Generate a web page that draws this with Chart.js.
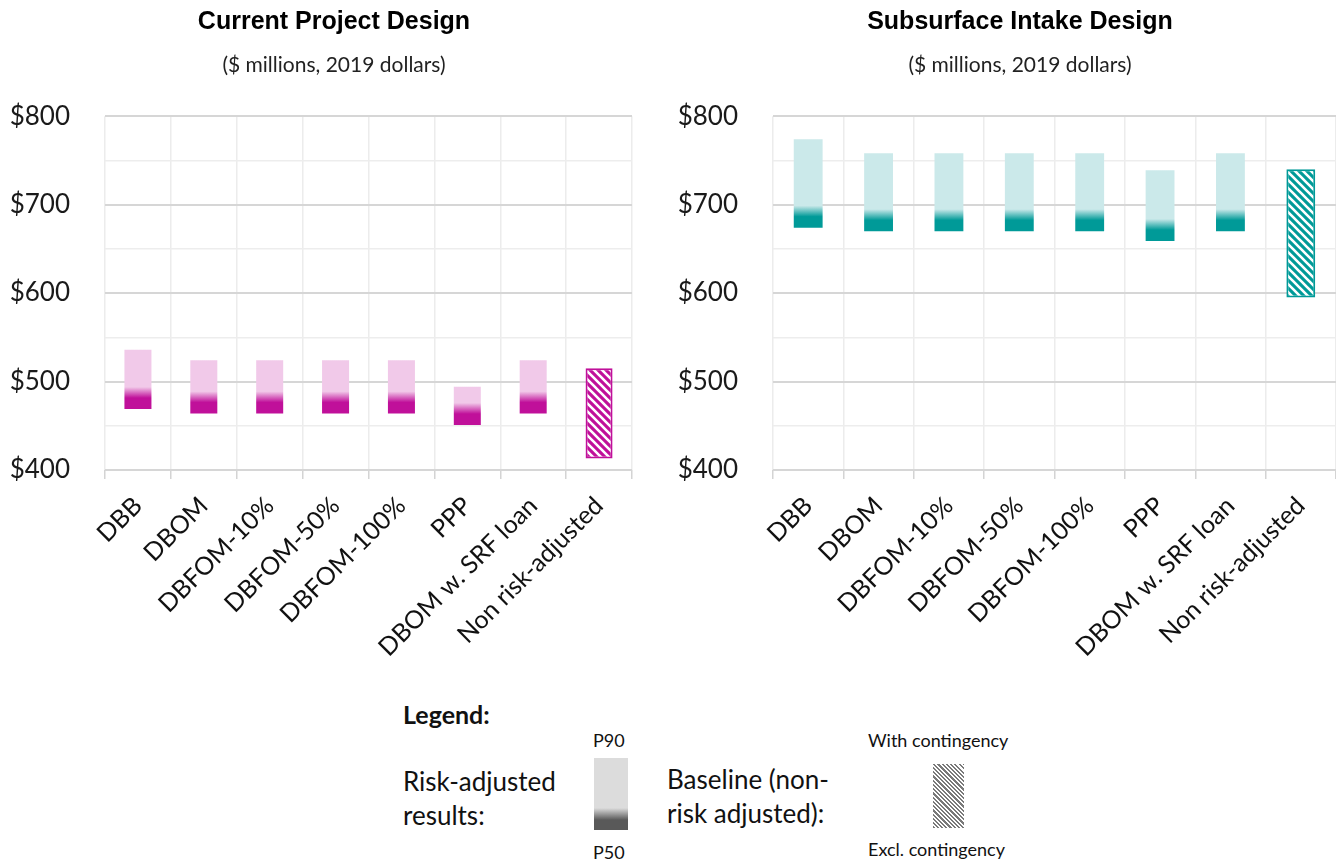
<!DOCTYPE html>
<html>
<head>
<meta charset="utf-8">
<script src="https://cdn.jsdelivr.net/npm/chart.js@4.4.1/dist/chart.umd.min.js"></script>
<style>
  body { margin: 0; background: #fff; width: 1336px; height: 861px; position: relative; overflow: hidden; font-family: Lato, sans-serif; color: #111; }
  .box { position: absolute; top: 0; height: 690px; }
  #leftBox { left: 0; width: 668px; }
  #rightBox { left: 668px; width: 704px; }
  .lg { position: absolute; white-space: nowrap; line-height: 1; }
</style>
</head>
<body>
<div class="box" id="leftBox"><canvas id="currentChart"></canvas></div>
<div class="box" id="rightBox"><canvas id="subsurfaceChart"></canvas></div>

<div class="lg" style="left:403px;top:702px;font-size:25px;font-weight:bold;">Legend:</div>
<div class="lg" style="left:403px;top:764px;font-size:26px;line-height:34px;">Risk-adjusted<br>results:</div>
<div class="lg" style="left:593px;top:731px;font-size:18px;">P90</div>
<div class="lg" style="left:594px;top:758px;width:34px;height:72px;background:linear-gradient(to top,#595959 0,#595959 10px,#dcdcdc 22px,#dcdcdc 100%);"></div>
<div class="lg" style="left:593px;top:843px;font-size:18px;">P50</div>
<div class="lg" style="left:667px;top:762px;font-size:26px;line-height:34px;">Baseline (non-<br>risk adjusted):</div>
<div class="lg" style="left:868px;top:731px;font-size:18px;">With contingency</div>
<div class="lg" style="left:933px;top:764px;width:31px;height:64px;background:repeating-linear-gradient(45deg,#7a7a7a 0,#7a7a7a 1.5px,#fff 1.5px,#fff 3px);"></div>
<div class="lg" style="left:868px;top:840px;font-size:18px;">Excl. contingency</div>

<script>
var categories = ['DBB', 'DBOM', 'DBFOM-10%', 'DBFOM-50%', 'DBFOM-100%', 'PPP', 'DBOM w. SRF loan', 'Non risk-adjusted'];
// low = P50 / excl. contingency, high = P90 / with contingency
var currentLow = [469, 464, 464, 464, 464, 451, 464, 413];
var currentHigh = [536, 524, 524, 524, 524, 494, 524, 515];
var subsurfaceLow = [674, 670, 670, 670, 670, 659, 670, 595];
var subsurfaceHigh = [774, 758, 758, 758, 758, 739, 758, 740];
var yTicks = [400, 500, 600, 700, 800];

var baselineIndex = categories.length - 1;

function hatch(color) {
  var c = document.createElement('canvas');
  c.width = 8; c.height = 8;
  var x = c.getContext('2d');
  x.fillStyle = color;
  x.fillRect(0, 0, 8, 8);
  x.strokeStyle = '#fff';
  x.lineWidth = 2.6;
  x.beginPath();
  x.moveTo(-2, -2); x.lineTo(10, 10);
  x.moveTo(-2, 6); x.lineTo(2, 10);
  x.moveTo(6, -2); x.lineTo(10, 2);
  x.stroke();
  return x.createPattern(c, 'repeat');
}

function barFill(dark, light) {
  var pattern = hatch(dark);
  return function (ctx) {
    if (ctx.dataIndex === baselineIndex) return pattern;
    var chart = ctx.chart;
    if (!chart.chartArea || !ctx.raw) return light;
    var y = chart.scales.y;
    var yb = y.getPixelForValue(ctx.raw[0]);
    var yt = y.getPixelForValue(ctx.raw[1]);
    var h = yb - yt;
    var g = chart.ctx.createLinearGradient(0, yb, 0, yt);
    g.addColorStop(0, dark);
    g.addColorStop(Math.min(11 / h, 1), dark);
    g.addColorStop(Math.min(22 / h, 1), light);
    g.addColorStop(1, light);
    return g;
  };
}

function makeChart(id, title, low, high, dark, light) {
  var data = [];
  for (var i = 0; i < categories.length; i++) {
    data.push([low[i], high[i]]);
  }
  return new Chart(document.getElementById(id).getContext('2d'), {
    type: 'bar',
    data: {
      labels: categories,
      datasets: [{
        data: data,
        backgroundColor: barFill(dark, light),
        borderColor: dark,
        borderWidth: function (c) { return c.dataIndex === baselineIndex ? 2 : 0; },
        borderSkipped: false,
        barPercentage: 0.41,
        categoryPercentage: 1
      }]
    },
    options: {
      responsive: true,
      maintainAspectRatio: false,
      animation: false,
      layout: { padding: 0 },
      plugins: {
        legend: { display: false },
        tooltip: { enabled: false },
        title: {
          display: true,
          text: title,
          color: '#000',
          font: { family: 'Liberation Sans', size: 25, weight: 'bold' },
          padding: { top: 7, bottom: 8 }
        },
        subtitle: {
          display: true,
          text: '($ millions, 2019 dollars)',
          color: '#222',
          font: { family: 'Lato', size: 21 },
          padding: { top: 8, bottom: 38 }
        }
      },
      scales: {
        x: {
          offset: true,
          border: { display: false },
          grid: { color: '#ececec', lineWidth: 1.5, tickColor: '#d4d4d4', tickLength: 9, offset: true },
          ticks: {
            color: '#111',
            font: { family: 'Lato', size: 25 },
            autoSkip: false,
            minRotation: 45,
            maxRotation: 45,
            padding: 12
          },
          afterFit: function (s) { s.height = 220; }
        },
        y: {
          min: 400,
          max: 800,
          border: { display: false },
          grid: {
            drawTicks: false,
            color: function (c) { return c.tick && yTicks.indexOf(c.tick.value) >= 0 ? '#d6d6d6' : '#ededed'; },
            lineWidth: function (c) { return c.tick && yTicks.indexOf(c.tick.value) >= 0 ? 2 : 1.5; }
          },
          ticks: {
            stepSize: 50,
            color: '#1a1a1a',
            font: { family: 'Lato', size: 26 },
            padding: 35,
            callback: function (v) { return yTicks.indexOf(v) >= 0 ? '$' + v : ''; }
          },
          afterFit: function (s) { s.width = 105; }
        },
        spacer: {
          position: 'right',
          display: true,
          grid: { display: false },
          border: { display: false },
          ticks: { display: false },
          afterFit: function (s) { s.width = 36; }
        }
      }
    }
  });
}

makeChart('currentChart', 'Current Project Design', currentLow, currentHigh, '#c0109a', '#f1c9e9');
makeChart('subsurfaceChart', 'Subsurface Intake Design', subsurfaceLow, subsurfaceHigh, '#009a98', '#cbe9ea');
</script>
</body>
</html>
